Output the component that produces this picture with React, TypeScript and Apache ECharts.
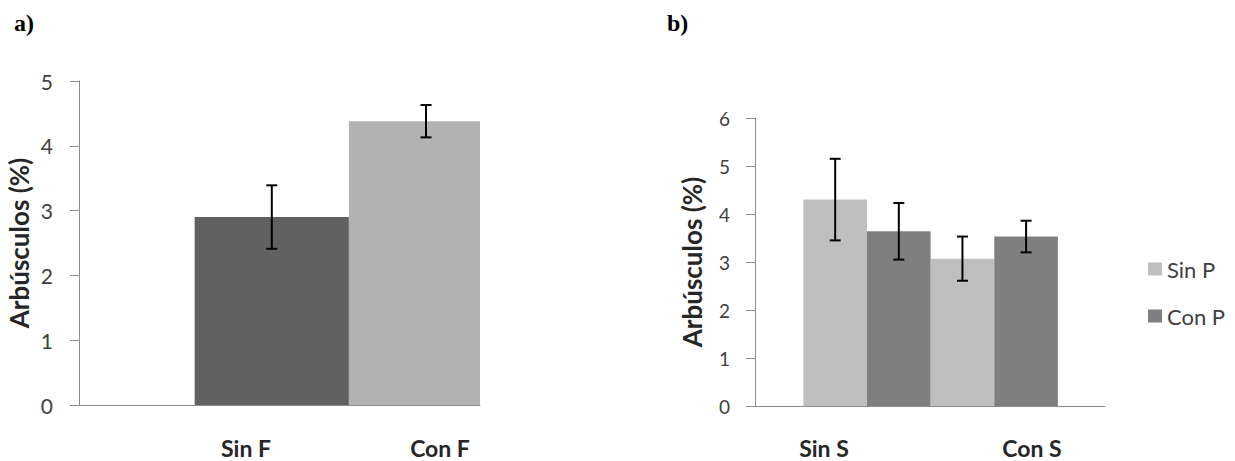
import React, { useEffect, useRef } from "react";
import * as echarts from "echarts";

// Panel a data
const aCategories = ["Sin F", "Con F"];
const aValues = [2.9, 4.38];
const aErrors = [0.49, 0.25];
const aColors = ["#616161", "#b2b2b2"];
const aTicks = [0, 1, 2, 3, 4, 5];

// Panel b data
const bCategories = ["Sin S", "Con S"];
const bSeriesNames = ["Sin P", "Con P"];
const bSinP = [4.3, 3.07];
const bConP = [3.64, 3.53];
const bSinPErr = [0.85, 0.46];
const bConPErr = [0.59, 0.33];
const bColors = ["#bfbfbf", "#7f7f7f"];
const bTicks = [0, 1, 2, 3, 4, 5, 6];

const yTitle = "Arbúsculos (%)";
const FONT = "Lato";
const AXIS_GRAY = "#8c8c8c";

function errorRender(offset: number) {
  return (params: any, api: any) => {
    const x = api.value(0) + offset;
    const v = api.value(1);
    const e = api.value(2);
    const top = api.coord([x, v + e]);
    const bot = api.coord([x, v - e]);
    const cap = 5.5;
    const style = { stroke: "#000", lineWidth: 2 };
    return {
      type: "group",
      children: [
        { type: "line", shape: { x1: top[0], y1: top[1], x2: bot[0], y2: bot[1] }, style },
        { type: "line", shape: { x1: top[0] - cap, y1: top[1], x2: top[0] + cap, y2: top[1] }, style },
        { type: "line", shape: { x1: bot[0] - cap, y1: bot[1], x2: bot[0] + cap, y2: bot[1] }, style },
      ],
    };
  };
}

// bar of one category unit wide, clipped to the plot area
function barRender(params: any, api: any) {
  const i = api.value(0);
  const v = api.value(1);
  const p0 = api.coord([i - 0.5, v]);
  const p1 = api.coord([i + 0.5, 0]);
  const cs = params.coordSys;
  const rect = echarts.graphic.clipRectByRect(
    { x: p0[0], y: p0[1], width: p1[0] - p0[0], height: p1[1] - p0[1] },
    { x: cs.x, y: cs.y, width: cs.width, height: cs.height }
  );
  if (!rect) return null;
  return {
    type: "rect",
    shape: rect,
    style: { fill: aColors[params.dataIndex] },
  };
}

export default function App() {
  const ref = useRef<HTMLDivElement>(null);
  useEffect(() => {
    document.body.style.margin = "0";
    const chart = echarts.init(ref.current!, null, { renderer: "svg" });
    const valueYAxis = (grid: number, max: number, margin: number, fontSize: number, nameGap: number) => ({
      type: "value",
      gridIndex: grid,
      min: 0,
      max,
      interval: 1,
      axisLine: { show: true, onZero: false, lineStyle: { color: AXIS_GRAY, width: 1 } },
      axisTick: { show: true, length: 9, lineStyle: { color: AXIS_GRAY } },
      axisLabel: { margin, fontSize, color: "#404040", fontFamily: FONT },
      splitLine: { show: false },
      name: yTitle,
      nameLocation: "middle",
      nameGap,
      nameTextStyle: { fontFamily: FONT, fontWeight: "bold", fontSize: 26, color: "#262626" },
    });
    const hiddenValueX = (grid: number, min: number, max: number) => ({
      type: "value",
      gridIndex: grid,
      min,
      max,
      axisLine: { show: true, onZero: false, lineStyle: { color: AXIS_GRAY, width: 1 } },
      axisTick: { show: false },
      axisLabel: { show: false },
      splitLine: { show: false },
    });
    const labelX = (grid: number, data: string[], margin: number) => ({
      type: "category",
      gridIndex: grid,
      data,
      axisLine: { show: false },
      axisTick: { show: false },
      axisLabel: { margin, fontFamily: FONT, fontWeight: "bold", fontSize: 23, color: "#262626" },
    });
    const hiddenY = (grid: number) => ({
      type: "value",
      gridIndex: grid,
      show: false,
    });
    const serifTitle = { fontFamily: "Liberation Serif", fontWeight: "bold", fontSize: 24, color: "#000" };

    chart.setOption({
      animation: false,
      title: [
        { text: "a)", left: 14, top: 11, padding: 0, textStyle: serifTitle },
        { text: "b)", left: 667, top: 11, padding: 0, textStyle: serifTitle },
      ],
      legend: {
        orient: "vertical",
        left: 1148,
        top: 258,
        itemWidth: 14,
        itemHeight: 13,
        itemGap: 25,
        itemTextGap: 4,
        padding: 0,
        data: bSeriesNames,
        textStyle: { fontFamily: FONT, fontSize: 22, color: "#404040" },
        icon: "rect",
      },
      grid: [
        { left: 79, top: 81, width: 401, height: 324 },
        { left: 149, top: 81, width: 388, height: 324 },
        { left: 755, top: 118, width: 350, height: 288 },
        { left: 720, top: 118, width: 416, height: 288 },
      ],
      xAxis: [
        hiddenValueX(0, -1.25, 1.35),
        labelX(1, aCategories, 31),
        hiddenValueX(2, -0.88, 1.87),
        labelX(3, bCategories, 30),
      ],
      yAxis: [
        valueYAxis(0, aTicks[aTicks.length - 1], 26, 21, 47),
        hiddenY(1),
        valueYAxis(2, bTicks[bTicks.length - 1], 25, 19, 50),
        hiddenY(3),
      ],
      series: [
        {
          type: "custom",
          xAxisIndex: 0,
          yAxisIndex: 0,
          renderItem: barRender,
          data: aValues.map((v, i) => [i, v]),
          z: 2,
        },
        {
          type: "custom",
          xAxisIndex: 0,
          yAxisIndex: 0,
          renderItem: errorRender(0),
          data: aValues.map((v, i) => [i, v, aErrors[i]]),
          z: 5,
        },
        {
          name: bSeriesNames[0],
          type: "bar",
          xAxisIndex: 2,
          yAxisIndex: 2,
          barWidth: 63.6,
          barGap: 0,
          itemStyle: { color: bColors[0] },
          data: bSinP.map((v, i) => [i, v]),
        },
        {
          name: bSeriesNames[1],
          type: "bar",
          xAxisIndex: 2,
          yAxisIndex: 2,
          barWidth: 63.6,
          barGap: 0,
          itemStyle: { color: bColors[1] },
          data: bConP.map((v, i) => [i, v]),
        },
        {
          type: "custom",
          xAxisIndex: 2,
          yAxisIndex: 2,
          renderItem: errorRender(-0.25),
          data: bSinP.map((v, i) => [i, v, bSinPErr[i]]),
          z: 5,
        },
        {
          type: "custom",
          xAxisIndex: 2,
          yAxisIndex: 2,
          renderItem: errorRender(0.25),
          data: bConP.map((v, i) => [i, v, bConPErr[i]]),
          z: 5,
        },
      ],
    });
    return () => chart.dispose();
  }, []);
  return <div ref={ref} style={{ width: 1235, height: 461 }} />;
}
